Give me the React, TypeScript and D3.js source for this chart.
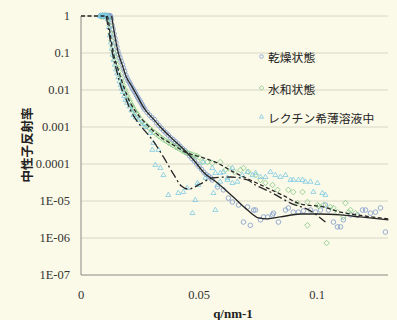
import React from "react";
import * as d3 from "d3";

const W = 397;
const H = 320;
const margin = { top: 16, right: 9, bottom: 45, left: 81 };

const yTicks = [1, 0.1, 0.01, 0.001, 0.0001, 1e-5, 1e-6, 1e-7];
const yTickLabels = ["1", "0.1", "0.01", "0.001", "0.0001", "1E-05", "1E-06", "1E-07"];
const xTicks = [0, 0.05, 0.1];
const xTickLabels = ["0", "0.05", "0.1"];
const seriesNames = ["乾燥状態", "水和状態", "レクチン希薄溶液中"];

// measured points [q, reflectivity]
const dryData: [number, number][] = [
  [0.0082, 1], [0.0084, 1.03], [0.0086, 1.01], [0.0088, 0.98], [0.009, 0.99], [0.0092, 1.03], [0.0094, 1],
  [0.0096, 0.97], [0.0098, 1.01], [0.01, 1.03], [0.0102, 0.99], [0.0104, 0.97], [0.0106, 1], [0.0108, 1.03],
  [0.011, 1.01], [0.0112, 0.97], [0.0114, 0.99], [0.0116, 1.03], [0.0118, 1], [0.012, 0.97], [0.0122, 0.98],
  [0.0124, 1.02], [0.0126, 0.92], [0.0128, 0.8], [0.0132, 0.56], [0.0136, 0.44], [0.014, 0.33],
  [0.0144, 0.25], [0.0148, 0.19], [0.0152, 0.145], [0.0156, 0.112], [0.016, 0.091], [0.0165, 0.074], [0.017, 0.06],
  [0.0175, 0.049], [0.018, 0.039], [0.0185, 0.032], [0.019, 0.025], [0.0195, 0.021], [0.02, 0.018], [0.0205, 0.016],
  [0.021, 0.0138], [0.0215, 0.012], [0.022, 0.0107], [0.0225, 0.0093], [0.023, 0.0083], [0.0235, 0.0072], [0.024, 0.0063],
  [0.0245, 0.0056], [0.025, 0.005], [0.0255, 0.0044], [0.026, 0.0039], [0.0265, 0.0034], [0.027, 0.003], [0.028, 0.0025],
  [0.029, 0.0021], [0.03, 0.0018], [0.031, 0.0016], [0.032, 0.0013], [0.033, 0.0011], [0.034, 0.00093], [0.035, 0.00079],
  [0.036, 0.00069], [0.037, 0.0006], [0.038, 0.00051], [0.039, 0.00046], [0.04, 0.0004], [0.041, 0.00035], [0.042, 0.0003],
  [0.043, 0.00026], [0.044, 0.00023], [0.045, 0.000195], [0.046, 0.000166], [0.047, 0.00014], [0.048, 0.00012],
  [0.049, 0.0001], [0.05, 8.5e-5], [0.051, 7.2e-5], [0.052, 6e-5], [0.053, 5.2e-5], [0.054, 4.7e-5], [0.055, 4.2e-5],
  [0.0556, 3.7e-5], [0.0578, 2.4e-5], [0.0603, 2.0e-5], [0.0624, 1.2e-5], [0.0641, 9.4e-6], [0.0667, 7.8e-6],
  [0.0688, 2.7e-6], [0.0705, 6.9e-6], [0.0717, 2.2e-6], [0.0731, 5.7e-6], [0.0739, 5.7e-6], [0.076, 3.1e-6],
  [0.0773, 3.7e-6], [0.079, 3.7e-6], [0.0811, 4.2e-6], [0.0815, 4.7e-6], [0.0836, 2.7e-6], [0.0866, 5.7e-6],
  [0.0878, 6.5e-6], [0.0899, 5.0e-6], [0.0921, 5.0e-6], [0.0942, 5.4e-6], [0.0972, 5.7e-6], [0.0993, 5.0e-6],
  [0.1014, 5.7e-6], [0.1035, 7.8e-6], [0.1048, 5.7e-6], [0.1069, 2.7e-6], [0.1086, 2.0e-6], [0.1099, 2.0e-6],
  [0.1111, 3.1e-6], [0.1141, 4.2e-6], [0.117, 4.2e-6], [0.1192, 5.7e-6], [0.1205, 5.7e-6], [0.1226, 4.7e-6],
  [0.1247, 5.0e-6], [0.1268, 6.5e-6], [0.1289, 1.45e-6],
];

const hydData: [number, number][] = [
  [0.0084, 1], [0.0086, 0.97], [0.0088, 0.99], [0.009, 1.03], [0.0092, 1.01], [0.0094, 0.97], [0.0096, 1],
  [0.0098, 1.03], [0.01, 0.99], [0.0102, 0.97], [0.0104, 1.01], [0.0106, 1.03], [0.0108, 1], [0.011, 0.97],
  [0.0112, 0.97], [0.0116, 0.85], [0.0122, 0.55], [0.0126, 0.33], [0.013, 0.22], [0.0134, 0.15], [0.0138, 0.105],
  [0.0142, 0.08],
  [0.0146, 0.062], [0.015, 0.05], [0.0155, 0.04], [0.016, 0.032], [0.0165, 0.025], [0.017, 0.02], [0.0175, 0.016],
  [0.018, 0.013], [0.0185, 0.0105], [0.019, 0.0086], [0.0195, 0.0071], [0.02, 0.006], [0.0205, 0.0051], [0.021, 0.0044],
  [0.0215, 0.0038], [0.022, 0.0033], [0.0225, 0.0029], [0.023, 0.0026], [0.0235, 0.0023], [0.024, 0.0021], [0.025, 0.0017],
  [0.026, 0.0014], [0.027, 0.0012], [0.028, 0.00105], [0.029, 0.00092], [0.03, 0.00081], [0.031, 0.00072], [0.032, 0.00064],
  [0.033, 0.00057], [0.034, 0.00051], [0.035, 0.00046], [0.036, 0.00042], [0.037, 0.00038], [0.038, 0.00035],
  [0.039, 0.00032], [0.04, 0.00029], [0.041, 0.00027], [0.042, 0.00025], [0.043, 0.00023], [0.044, 0.00021],
  [0.045, 0.0002], [0.046, 0.00019], [0.047, 0.00018], [0.048, 0.00017], [0.049, 0.000165], [0.05, 0.00015],
  [0.0514, 1.13e-4], [0.0535, 1.13e-4], [0.0556, 1.06e-4], [0.059, 1.13e-4], [0.0611, 6.9e-5], [0.0625, 7.8e-5],
  [0.065, 6.1e-5], [0.0675, 6.9e-5], [0.0688, 7.8e-5], [0.0709, 6.1e-5], [0.0739, 5.0e-5], [0.076, 3.7e-5],
  [0.0781, 3.1e-5], [0.0811, 2.7e-5], [0.0832, 2.0e-5], [0.0878, 2.0e-5], [0.0899, 1.75e-5], [0.0917, 8.8e-6],
  [0.0938, 1.75e-5], [0.0959, 9.4e-6], [0.0959, 2.2e-6], [0.1001, 7.8e-6], [0.1006, 7.3e-6], [0.1027, 7.8e-6],
  [0.104, 7.3e-7], [0.1056, 6.9e-6], [0.1069, 6.5e-6], [0.1086, 5.0e-6], [0.1111, 3.7e-6], [0.112, 8.8e-6],
  [0.1133, 5.0e-6], [0.1141, 5.7e-6], [0.1162, 4.7e-6],
];

const lecData: [number, number][] = [
  [0.008, 1], [0.0083, 1.03], [0.0085, 1], [0.0087, 0.97], [0.009, 1.01], [0.0092, 1.03], [0.0095, 0.99],
  [0.0097, 0.97], [0.01, 1], [0.0102, 1.03], [0.0105, 1.01], [0.0107, 0.97], [0.011, 0.98], [0.0112, 1.02],
  [0.0114, 0.8],
  [0.0118, 0.5], [0.0122, 0.3], [0.0126, 0.19], [0.013, 0.13], [0.0134, 0.09], [0.0138, 0.065], [0.0143, 0.048],
  [0.0148, 0.036], [0.0153, 0.028], [0.0158, 0.022], [0.0163, 0.017], [0.0168, 0.0135], [0.0173, 0.011], [0.0178, 0.0088],
  [0.0183, 0.0068], [0.0188, 0.0054], [0.0195, 0.0045], [0.0205, 0.0036], [0.0213, 0.0028], [0.0222, 0.0021],
  [0.0232, 0.0018], [0.0243, 0.00155], [0.0258, 0.0012], [0.0272, 0.001], [0.0293, 6.9e-4], [0.0306, 3.7e-4],
  [0.0302, 2.4e-4], [0.0328, 2.4e-4], [0.0315, 9.4e-5], [0.0336, 7.8e-5], [0.0349, 5.0e-5], [0.037, 1.45e-5],
  [0.0412, 1.64e-5], [0.0433, 1.75e-5], [0.045, 2.24e-5], [0.0472, 4.7e-6], [0.0484, 1.06e-5], [0.0493, 3.06e-5],
  [0.0497, 2.7e-5], [0.0518, 1.13e-4], [0.0527, 4.2e-5], [0.0556, 7.8e-5], [0.0561, 1.64e-5], [0.0569, 5.7e-5],
  [0.0569, 5.7e-6], [0.0578, 2.7e-5], [0.059, 3.3e-5], [0.059, 5.7e-5], [0.0603, 6.1e-5], [0.062, 3.7e-5],
  [0.062, 4.2e-5], [0.0641, 3.06e-5], [0.0641, 7.8e-5], [0.0662, 3.3e-5], [0.0683, 5.0e-5], [0.0705, 6.1e-5],
  [0.0726, 5.0e-5], [0.0739, 5.7e-5], [0.076, 4.45e-5], [0.0781, 4.45e-5], [0.0802, 6.1e-5], [0.0823, 5.0e-5],
  [0.0844, 4.45e-5], [0.0866, 5.0e-5], [0.0887, 3.7e-5], [0.0899, 3.7e-5], [0.0921, 3.7e-5], [0.0938, 3.7e-5],
  [0.095, 3.3e-5], [0.0972, 3.3e-5], [0.0984, 1.75e-5], [0.1001, 3.06e-5], [0.1022, 1.64e-5], [0.1035, 1.45e-5],
];

// fitted curves
const dryFit: [number, number][] = [
  [0.013, 1], [0.0139, 0.42], [0.015, 0.17], [0.0158, 0.1], [0.0175, 0.047], [0.0192, 0.0225], [0.0213, 0.0132],
  [0.0226, 0.0095], [0.0272, 0.0029], [0.0306, 0.00166], [0.0336, 0.001], [0.0378, 5.4e-4], [0.045, 1.98e-4],
  [0.0484, 1.13e-4], [0.0518, 6.1e-5], [0.0578, 3.06e-5], [0.0645, 1.28e-5], [0.0705, 5.7e-6], [0.0751, 3.5e-6],
  [0.079, 3.3e-6], [0.0844, 3.7e-6], [0.0929, 4.45e-6], [0.1014, 4.45e-6], [0.1099, 4.2e-6], [0.1183, 3.7e-6],
  [0.1302, 3.1e-6],
];

const hydFit: [number, number][] = [
  [0, 1], [0.0107, 1], [0.0112, 0.97], [0.0124, 0.31], [0.0137, 0.1], [0.0158, 0.035], [0.0183, 0.0113],
  [0.0209, 0.0045], [0.0239, 0.00225], [0.0281, 0.00113], [0.0336, 5.4e-4], [0.0391, 3.27e-4], [0.045, 1.98e-4],
  [0.0506, 1.55e-4], [0.0578, 1.06e-4], [0.0645, 6.1e-5], [0.0717, 3.7e-5], [0.079, 2.24e-5], [0.0857, 1.4e-5],
  [0.0929, 8.3e-6], [0.1027, 6.9e-6], [0.1099, 5.0e-6], [0.117, 4.2e-6], [0.1302, 3.3e-6],
];

const lecFit: [number, number][] = [
  [0.0107, 1], [0.012, 0.31], [0.0133, 0.1], [0.015, 0.035], [0.0171, 0.0113], [0.0192, 0.0054], [0.0209, 0.0029],
  [0.0234, 0.00155], [0.0264, 8.8e-4], [0.0302, 4.5e-4], [0.0349, 1.55e-4], [0.0391, 5.4e-5], [0.0425, 2.54e-5],
  [0.0455, 2.1e-5], [0.0506, 2.9e-5], [0.0556, 4.2e-5], [0.0633, 4.45e-5], [0.0705, 3.7e-5], [0.0739, 2.7e-5],
  [0.0802, 1.75e-5], [0.0887, 8.8e-6], [0.0972, 5.4e-6], [0.1035, 2.7e-6],
];

const bg = "#fbf9e7";
const dryColor = "#7d9acb";
const hydColor = "#84c986";
const lecColor = "#7fcae4";

const diamond = (r: number) => `M0,${-r}L${r},0L0,${r}L${-r},0Z`;
const triangle = (s: number) =>
  `M0,${-s * 0.577}L${s / 2},${s * 0.289}L${-s / 2},${s * 0.289}Z`;

function drawChart(svg: d3.Selection<SVGSVGElement, unknown, null, undefined>) {
  svg.selectAll("*").remove();

  const x = d3
    .scaleLinear()
    .domain([0, 0.13])
    .range([margin.left, W - margin.right]);
  const y = d3
    .scaleLog()
    .domain([1e-7, 1])
    .range([H - margin.bottom, margin.top]);

  svg.append("rect").attr("width", W).attr("height", H).attr("fill", bg);

  // gridlines
  svg
    .append("g")
    .selectAll("line")
    .data(yTicks.slice(0, -1))
    .join("line")
    .attr("x1", margin.left)
    .attr("x2", W - margin.right)
    .attr("y1", (d) => y(d))
    .attr("y2", (d) => y(d))
    .attr("stroke", "#d8d6c6")
    .attr("stroke-width", 1);

  // axes
  svg
    .append("line")
    .attr("x1", margin.left)
    .attr("x2", margin.left)
    .attr("y1", margin.top)
    .attr("y2", H - margin.bottom)
    .attr("stroke", "#8a8a84")
    .attr("stroke-width", 1);
  svg
    .append("line")
    .attr("x1", margin.left)
    .attr("x2", W - margin.right)
    .attr("y1", H - margin.bottom)
    .attr("y2", H - margin.bottom)
    .attr("stroke", "#8a8a84")
    .attr("stroke-width", 1);

  const serif = "'Liberation Serif', 'Times New Roman', serif";
  svg
    .append("g")
    .selectAll("text")
    .data(yTicks)
    .join("text")
    .attr("x", 70)
    .attr("y", (d) => y(d) + 4.3)
    .attr("text-anchor", "end")
    .attr("font-family", serif)
    .attr("font-size", 12.5)
    .attr("fill", "#333")
    .text((d, i) => yTickLabels[i]);

  svg
    .append("g")
    .selectAll("text")
    .data(xTicks)
    .join("text")
    .attr("x", (d) => x(d))
    .attr("y", 299)
    .attr("text-anchor", "middle")
    .attr("font-family", serif)
    .attr("font-size", 12.5)
    .attr("fill", "#333")
    .text((d, i) => xTickLabels[i]);

  svg
    .append("text")
    .attr("x", 233)
    .attr("y", 318)
    .attr("text-anchor", "middle")
    .attr("font-family", serif)
    .attr("font-weight", "bold")
    .attr("font-size", 13)
    .attr("fill", "#222")
    .text("q/nm-1");

  svg
    .append("text")
    .attr("transform", "translate(26,145) rotate(-90)")
    .attr("text-anchor", "middle")
    .attr("dominant-baseline", "central")
    .attr("font-family", "'Noto Sans CJK JP', sans-serif")
    .attr("font-weight", "bold")
    .attr("font-size", 12.5)
    .attr("fill", "#222")
    .text("中性子反射率");

  // markers
  const plot = svg.append("g");
  plot
    .selectAll("circle.dry")
    .data(dryData)
    .join("circle")
    .attr("class", "dry")
    .attr("cx", (d) => x(d[0]))
    .attr("cy", (d) => y(d[1]))
    .attr("r", 2.3)
    .attr("fill", "none")
    .attr("stroke", dryColor)
    .attr("stroke-width", 0.8);
  plot
    .selectAll("path.hyd")
    .data(hydData)
    .join("path")
    .attr("class", "hyd")
    .attr("transform", (d) => `translate(${x(d[0])},${y(d[1])})`)
    .attr("d", diamond(2.8))
    .attr("fill", "none")
    .attr("stroke", hydColor)
    .attr("stroke-width", 0.8);
  plot
    .selectAll("path.lec")
    .data(lecData)
    .join("path")
    .attr("class", "lec")
    .attr("transform", (d) => `translate(${x(d[0])},${y(d[1])})`)
    .attr("d", triangle(5))
    .attr("fill", "none")
    .attr("stroke", lecColor)
    .attr("stroke-width", 0.8);

  // fit lines
  const line = d3
    .line<[number, number]>()
    .x((d) => x(d[0]))
    .y((d) => y(d[1]))
    .curve(d3.curveMonotoneX);

  const fits: [[number, number][], string | null][] = [
    [dryFit, null],
    [hydFit, "4 2.5"],
    [lecFit, "9 3 2 3"],
  ];
  fits.forEach(([data, dash]) => {
    plot
      .append("path")
      .datum(data)
      .attr("fill", "none")
      .attr("stroke", "#262626")
      .attr("stroke-width", 1.3)
      .attr("stroke-dasharray", dash)
      .attr("d", line);
  });

  // legend
  const legendY = [56.5, 88, 117];
  const lg = svg.append("g");
  lg.append("circle")
    .attr("cx", 261.5)
    .attr("cy", legendY[0])
    .attr("r", 1.8)
    .attr("fill", "none")
    .attr("stroke", dryColor)
    .attr("stroke-width", 0.8);
  lg.append("path")
    .attr("transform", `translate(261.5,${legendY[1]})`)
    .attr("d", diamond(2.3))
    .attr("fill", "none")
    .attr("stroke", hydColor)
    .attr("stroke-width", 0.8);
  lg.append("path")
    .attr("transform", `translate(261.5,${legendY[2]})`)
    .attr("d", triangle(4.2))
    .attr("fill", "none")
    .attr("stroke", lecColor)
    .attr("stroke-width", 0.8);
  lg.selectAll("text")
    .data(seriesNames)
    .join("text")
    .attr("x", 268)
    .attr("y", (d, i) => legendY[i])
    .attr("dominant-baseline", "central")
    .attr("font-family", "'Noto Sans CJK JP', sans-serif")
    .attr("font-size", 11.8)
    .attr("fill", "#222")
    .text((d) => d);

  return svg.node();
}

function Chart() {
  const ref = React.useRef<SVGSVGElement>(null);
  React.useEffect(() => {
    if (ref.current) drawChart(d3.select(ref.current));
  }, []);
  return (
    <svg
      ref={ref}
      width={W}
      height={H}
      style={{ position: "absolute", left: 0, top: 0, display: "block" }}
    />
  );
}

export default function App() {
  return <Chart />;
}
